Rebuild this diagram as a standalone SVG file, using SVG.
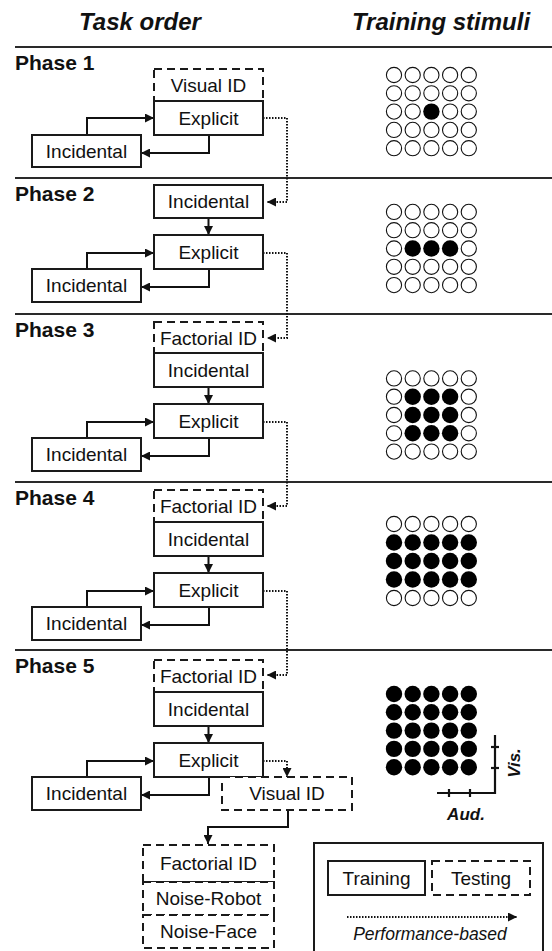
<svg xmlns="http://www.w3.org/2000/svg" width="552" height="951" viewBox="0 0 552 951">
<style>
  text { font-family: "Liberation Sans", Arial, sans-serif; fill: #111; }
  .title { font-size: 24px; font-weight: bold; font-style: italic; text-anchor: middle; }
  .phase { font-size: 21px; font-weight: bold; }
  .lbl { font-size: 19px; text-anchor: middle; }
  .solid { fill: #fff; stroke: #1a1a1a; stroke-width: 2; }
  .dash { fill: #fff; stroke: #1a1a1a; stroke-width: 2; stroke-dasharray: 8 5; }
  .sep { stroke: #2a2a2a; stroke-width: 2; }
  .conn { fill: none; stroke: #111; stroke-width: 2; }
  .dot { fill: none; stroke: #111; stroke-width: 2; stroke-dasharray: 1.5 1.5; }
  .o { fill: #fff; stroke: #111; stroke-width: 1.1; }
  .f { fill: #000; }
  .ax { stroke: #111; stroke-width: 2.2; fill: none; }
  .axl { font-size: 17px; font-weight: bold; font-style: italic; text-anchor: middle; }
</style>
<defs>
  <marker id="ah" viewBox="0 0 10 10" refX="10" refY="5" markerWidth="9" markerHeight="9" markerUnits="userSpaceOnUse" orient="auto">
    <path d="M0,0 L10,5 L0,10 z" fill="#111"/>
  </marker>
</defs>

<text class="title" x="140" y="30">Task order</text>
<text class="title" x="441" y="30">Training stimuli</text>

<g id="separators">
  <line class="sep" x1="15" y1="47" x2="552" y2="47"/>
  <line class="sep" x1="15" y1="178" x2="552" y2="178"/>
  <line class="sep" x1="15" y1="314" x2="552" y2="314"/>
  <line class="sep" x1="15" y1="482" x2="552" y2="482"/>
  <line class="sep" x1="15" y1="650" x2="552" y2="650"/>
</g>

<text class="phase" x="15" y="70">Phase 1</text>
<text class="phase" x="15" y="201">Phase 2</text>
<text class="phase" x="15" y="337">Phase 3</text>
<text class="phase" x="15" y="505">Phase 4</text>
<text class="phase" x="15" y="673">Phase 5</text>

<g id="connectors">
  <path class="conn" d="M87,135 V118 H154" marker-end="url(#ah)"/>
  <path class="conn" d="M209,135 V153 H141" marker-end="url(#ah)"/>
  <path class="dot" d="M263,118 H287 V202 H267" marker-end="url(#ah)"/>
  <path class="conn" d="M208.5,218 V235" marker-end="url(#ah)"/>
  <path class="conn" d="M87,269 V253 H154" marker-end="url(#ah)"/>
  <path class="conn" d="M209,269 V287 H141" marker-end="url(#ah)"/>
  <path class="dot" d="M263,253 H287 V338 H267" marker-end="url(#ah)"/>
  <path class="conn" d="M208.5,387 V404" marker-end="url(#ah)"/>
  <path class="conn" d="M87,438 V422 H154" marker-end="url(#ah)"/>
  <path class="conn" d="M209,438 V456 H141" marker-end="url(#ah)"/>
  <path class="dot" d="M263,422 H287 V506 H267" marker-end="url(#ah)"/>
  <path class="conn" d="M208.5,556 V573" marker-end="url(#ah)"/>
  <path class="conn" d="M87,607 V591 H154" marker-end="url(#ah)"/>
  <path class="conn" d="M209,607 V625 H141" marker-end="url(#ah)"/>
  <path class="dot" d="M263,591 H287 V675 H267" marker-end="url(#ah)"/>
  <path class="conn" d="M208.5,726 V743" marker-end="url(#ah)"/>
  <path class="conn" d="M87,777 V761 H154" marker-end="url(#ah)"/>
  <path class="conn" d="M209,777 V795 H141" marker-end="url(#ah)"/>
  <path class="dot" d="M263,761 H287 V777" marker-end="url(#ah)"/>
  <path class="conn" d="M288,810 V827 H208 V844" marker-end="url(#ah)"/>
</g>

<g id="p1-visual"><rect class="dash" x="154" y="69" width="109" height="32"/><text class="lbl" x="208.5" y="92">Visual ID</text></g>
<g id="p1-explicit"><rect class="solid" x="154" y="101" width="109" height="34"/><text class="lbl" x="208.5" y="125">Explicit</text></g>
<g id="p1-incidental"><rect class="solid" x="32" y="135" width="109" height="32"/><text class="lbl" x="86.5" y="158">Incidental</text></g>

<g id="p2-incidental-top"><rect class="solid" x="154" y="185" width="109" height="33"/><text class="lbl" x="208.5" y="208">Incidental</text></g>
<g id="p2-explicit"><rect class="solid" x="154" y="235" width="109" height="34"/><text class="lbl" x="208.5" y="259">Explicit</text></g>
<g id="p2-incidental"><rect class="solid" x="32" y="269" width="109" height="33"/><text class="lbl" x="86.5" y="292">Incidental</text></g>

<g id="p3-factorial"><rect class="dash" x="154" y="322" width="109" height="31"/><text class="lbl" x="208.5" y="345">Factorial ID</text></g>
<g id="p3-incidental-top"><rect class="solid" x="154" y="353" width="109" height="34"/><text class="lbl" x="208.5" y="377">Incidental</text></g>
<g id="p3-explicit"><rect class="solid" x="154" y="404" width="109" height="34"/><text class="lbl" x="208.5" y="428">Explicit</text></g>
<g id="p3-incidental"><rect class="solid" x="32" y="438" width="109" height="33"/><text class="lbl" x="86.5" y="461">Incidental</text></g>

<g id="p4-factorial"><rect class="dash" x="154" y="490" width="109" height="32"/><text class="lbl" x="208.5" y="513">Factorial ID</text></g>
<g id="p4-incidental-top"><rect class="solid" x="154" y="522" width="109" height="34"/><text class="lbl" x="208.5" y="546">Incidental</text></g>
<g id="p4-explicit"><rect class="solid" x="154" y="573" width="109" height="34"/><text class="lbl" x="208.5" y="597">Explicit</text></g>
<g id="p4-incidental"><rect class="solid" x="32" y="607" width="109" height="33"/><text class="lbl" x="86.5" y="630">Incidental</text></g>

<g id="p5-factorial"><rect class="dash" x="154" y="660" width="109" height="32"/><text class="lbl" x="208.5" y="683">Factorial ID</text></g>
<g id="p5-incidental-top"><rect class="solid" x="154" y="692" width="109" height="34"/><text class="lbl" x="208.5" y="716">Incidental</text></g>
<g id="p5-explicit"><rect class="solid" x="154" y="743" width="109" height="34"/><text class="lbl" x="208.5" y="767">Explicit</text></g>
<g id="p5-incidental"><rect class="solid" x="32" y="777" width="109" height="33"/><text class="lbl" x="86.5" y="800">Incidental</text></g>
<g id="p5-visual"><rect class="dash" x="222" y="777" width="130" height="33"/><text class="lbl" x="287" y="800">Visual ID</text></g>
<g id="p5-factorial-final"><rect class="dash" x="143" y="845" width="131" height="37"/><text class="lbl" x="208.5" y="870">Factorial ID</text></g>
<g id="p5-noise-robot"><rect class="dash" x="143" y="882" width="131" height="33"/><text class="lbl" x="208.5" y="905">Noise-Robot</text></g>
<g id="p5-noise-face"><rect class="dash" x="143" y="915" width="131" height="33"/><text class="lbl" x="208.5" y="938">Noise-Face</text></g>

<g id="grid1">
  <circle class="o" cx="394" cy="75" r="7.6"/><circle class="o" cx="412.7" cy="75" r="7.6"/><circle class="o" cx="431.4" cy="75" r="7.6"/><circle class="o" cx="450.1" cy="75" r="7.6"/><circle class="o" cx="468.8" cy="75" r="7.6"/>
  <circle class="o" cx="394" cy="93.3" r="7.6"/><circle class="o" cx="412.7" cy="93.3" r="7.6"/><circle class="o" cx="431.4" cy="93.3" r="7.6"/><circle class="o" cx="450.1" cy="93.3" r="7.6"/><circle class="o" cx="468.8" cy="93.3" r="7.6"/>
  <circle class="o" cx="394" cy="111.6" r="7.6"/><circle class="o" cx="412.7" cy="111.6" r="7.6"/><circle class="f" cx="431.4" cy="111.6" r="8.2"/><circle class="o" cx="450.1" cy="111.6" r="7.6"/><circle class="o" cx="468.8" cy="111.6" r="7.6"/>
  <circle class="o" cx="394" cy="129.9" r="7.6"/><circle class="o" cx="412.7" cy="129.9" r="7.6"/><circle class="o" cx="431.4" cy="129.9" r="7.6"/><circle class="o" cx="450.1" cy="129.9" r="7.6"/><circle class="o" cx="468.8" cy="129.9" r="7.6"/>
  <circle class="o" cx="394" cy="148.2" r="7.6"/><circle class="o" cx="412.7" cy="148.2" r="7.6"/><circle class="o" cx="431.4" cy="148.2" r="7.6"/><circle class="o" cx="450.1" cy="148.2" r="7.6"/><circle class="o" cx="468.8" cy="148.2" r="7.6"/>
</g>
<g id="grid2">
  <circle class="o" cx="394" cy="211.9" r="7.6"/><circle class="o" cx="412.7" cy="211.9" r="7.6"/><circle class="o" cx="431.4" cy="211.9" r="7.6"/><circle class="o" cx="450.1" cy="211.9" r="7.6"/><circle class="o" cx="468.8" cy="211.9" r="7.6"/>
  <circle class="o" cx="394" cy="230.2" r="7.6"/><circle class="o" cx="412.7" cy="230.2" r="7.6"/><circle class="o" cx="431.4" cy="230.2" r="7.6"/><circle class="o" cx="450.1" cy="230.2" r="7.6"/><circle class="o" cx="468.8" cy="230.2" r="7.6"/>
  <circle class="o" cx="394" cy="248.5" r="7.6"/><circle class="f" cx="412.7" cy="248.5" r="8.2"/><circle class="f" cx="431.4" cy="248.5" r="8.2"/><circle class="f" cx="450.1" cy="248.5" r="8.2"/><circle class="o" cx="468.8" cy="248.5" r="7.6"/>
  <circle class="o" cx="394" cy="266.8" r="7.6"/><circle class="o" cx="412.7" cy="266.8" r="7.6"/><circle class="o" cx="431.4" cy="266.8" r="7.6"/><circle class="o" cx="450.1" cy="266.8" r="7.6"/><circle class="o" cx="468.8" cy="266.8" r="7.6"/>
  <circle class="o" cx="394" cy="285.1" r="7.6"/><circle class="o" cx="412.7" cy="285.1" r="7.6"/><circle class="o" cx="431.4" cy="285.1" r="7.6"/><circle class="o" cx="450.1" cy="285.1" r="7.6"/><circle class="o" cx="468.8" cy="285.1" r="7.6"/>
</g>
<g id="grid3">
  <circle class="o" cx="394" cy="378.4" r="7.6"/><circle class="o" cx="412.7" cy="378.4" r="7.6"/><circle class="o" cx="431.4" cy="378.4" r="7.6"/><circle class="o" cx="450.1" cy="378.4" r="7.6"/><circle class="o" cx="468.8" cy="378.4" r="7.6"/>
  <circle class="o" cx="394" cy="396.7" r="7.6"/><circle class="f" cx="412.7" cy="396.7" r="8.2"/><circle class="f" cx="431.4" cy="396.7" r="8.2"/><circle class="f" cx="450.1" cy="396.7" r="8.2"/><circle class="o" cx="468.8" cy="396.7" r="7.6"/>
  <circle class="o" cx="394" cy="415" r="7.6"/><circle class="f" cx="412.7" cy="415" r="8.2"/><circle class="f" cx="431.4" cy="415" r="8.2"/><circle class="f" cx="450.1" cy="415" r="8.2"/><circle class="o" cx="468.8" cy="415" r="7.6"/>
  <circle class="o" cx="394" cy="433.3" r="7.6"/><circle class="f" cx="412.7" cy="433.3" r="8.2"/><circle class="f" cx="431.4" cy="433.3" r="8.2"/><circle class="f" cx="450.1" cy="433.3" r="8.2"/><circle class="o" cx="468.8" cy="433.3" r="7.6"/>
  <circle class="o" cx="394" cy="451.6" r="7.6"/><circle class="o" cx="412.7" cy="451.6" r="7.6"/><circle class="o" cx="431.4" cy="451.6" r="7.6"/><circle class="o" cx="450.1" cy="451.6" r="7.6"/><circle class="o" cx="468.8" cy="451.6" r="7.6"/>
</g>
<g id="grid4">
  <circle class="o" cx="394" cy="524" r="7.6"/><circle class="o" cx="412.7" cy="524" r="7.6"/><circle class="o" cx="431.4" cy="524" r="7.6"/><circle class="o" cx="450.1" cy="524" r="7.6"/><circle class="o" cx="468.8" cy="524" r="7.6"/>
  <circle class="f" cx="394" cy="542.5" r="8.2"/><circle class="f" cx="412.7" cy="542.5" r="8.2"/><circle class="f" cx="431.4" cy="542.5" r="8.2"/><circle class="f" cx="450.1" cy="542.5" r="8.2"/><circle class="f" cx="468.8" cy="542.5" r="8.2"/>
  <circle class="f" cx="394" cy="561" r="8.2"/><circle class="f" cx="412.7" cy="561" r="8.2"/><circle class="f" cx="431.4" cy="561" r="8.2"/><circle class="f" cx="450.1" cy="561" r="8.2"/><circle class="f" cx="468.8" cy="561" r="8.2"/>
  <circle class="f" cx="394" cy="579.5" r="8.2"/><circle class="f" cx="412.7" cy="579.5" r="8.2"/><circle class="f" cx="431.4" cy="579.5" r="8.2"/><circle class="f" cx="450.1" cy="579.5" r="8.2"/><circle class="f" cx="468.8" cy="579.5" r="8.2"/>
  <circle class="o" cx="394" cy="598" r="7.6"/><circle class="o" cx="412.7" cy="598" r="7.6"/><circle class="o" cx="431.4" cy="598" r="7.6"/><circle class="o" cx="450.1" cy="598" r="7.6"/><circle class="o" cx="468.8" cy="598" r="7.6"/>
</g>
<g id="grid5">
  <circle class="f" cx="394" cy="694" r="8.2"/><circle class="f" cx="412.7" cy="694" r="8.2"/><circle class="f" cx="431.4" cy="694" r="8.2"/><circle class="f" cx="450.1" cy="694" r="8.2"/><circle class="f" cx="468.8" cy="694" r="8.2"/>
  <circle class="f" cx="394" cy="712.3" r="8.2"/><circle class="f" cx="412.7" cy="712.3" r="8.2"/><circle class="f" cx="431.4" cy="712.3" r="8.2"/><circle class="f" cx="450.1" cy="712.3" r="8.2"/><circle class="f" cx="468.8" cy="712.3" r="8.2"/>
  <circle class="f" cx="394" cy="730.6" r="8.2"/><circle class="f" cx="412.7" cy="730.6" r="8.2"/><circle class="f" cx="431.4" cy="730.6" r="8.2"/><circle class="f" cx="450.1" cy="730.6" r="8.2"/><circle class="f" cx="468.8" cy="730.6" r="8.2"/>
  <circle class="f" cx="394" cy="748.9" r="8.2"/><circle class="f" cx="412.7" cy="748.9" r="8.2"/><circle class="f" cx="431.4" cy="748.9" r="8.2"/><circle class="f" cx="450.1" cy="748.9" r="8.2"/><circle class="f" cx="468.8" cy="748.9" r="8.2"/>
  <circle class="f" cx="394" cy="767.2" r="8.2"/><circle class="f" cx="412.7" cy="767.2" r="8.2"/><circle class="f" cx="431.4" cy="767.2" r="8.2"/><circle class="f" cx="450.1" cy="767.2" r="8.2"/><circle class="f" cx="468.8" cy="767.2" r="8.2"/>
</g>

<g id="axes">
  <path class="ax" d="M495,735 V793 H437"/>
  <line class="ax" x1="491" y1="747" x2="499" y2="747"/>
  <line class="ax" x1="491" y1="768" x2="499" y2="768"/>
  <line class="ax" x1="449" y1="789" x2="449" y2="797"/>
  <line class="ax" x1="470" y1="789" x2="470" y2="797"/>
  <text class="axl" transform="translate(520,763) rotate(-90)">Vis.</text>
  <text class="axl" x="466" y="820">Aud.</text>
</g>

<g id="legend">
  <rect fill="#fff" stroke="#1a1a1a" stroke-width="2" x="314" y="843" width="229" height="115"/>
  <rect class="solid" x="328" y="861" width="97" height="34"/><text class="lbl" x="376.5" y="885">Training</text>
  <rect class="dash" x="432" y="861" width="98" height="34"/><text class="lbl" x="481" y="885">Testing</text>
  <path class="dot" d="M347,917 H517" marker-end="url(#ah)"/>
  <text x="430" y="940" style="font-size:17.5px;font-style:italic;text-anchor:middle">Performance-based</text>
</g>
</svg>
